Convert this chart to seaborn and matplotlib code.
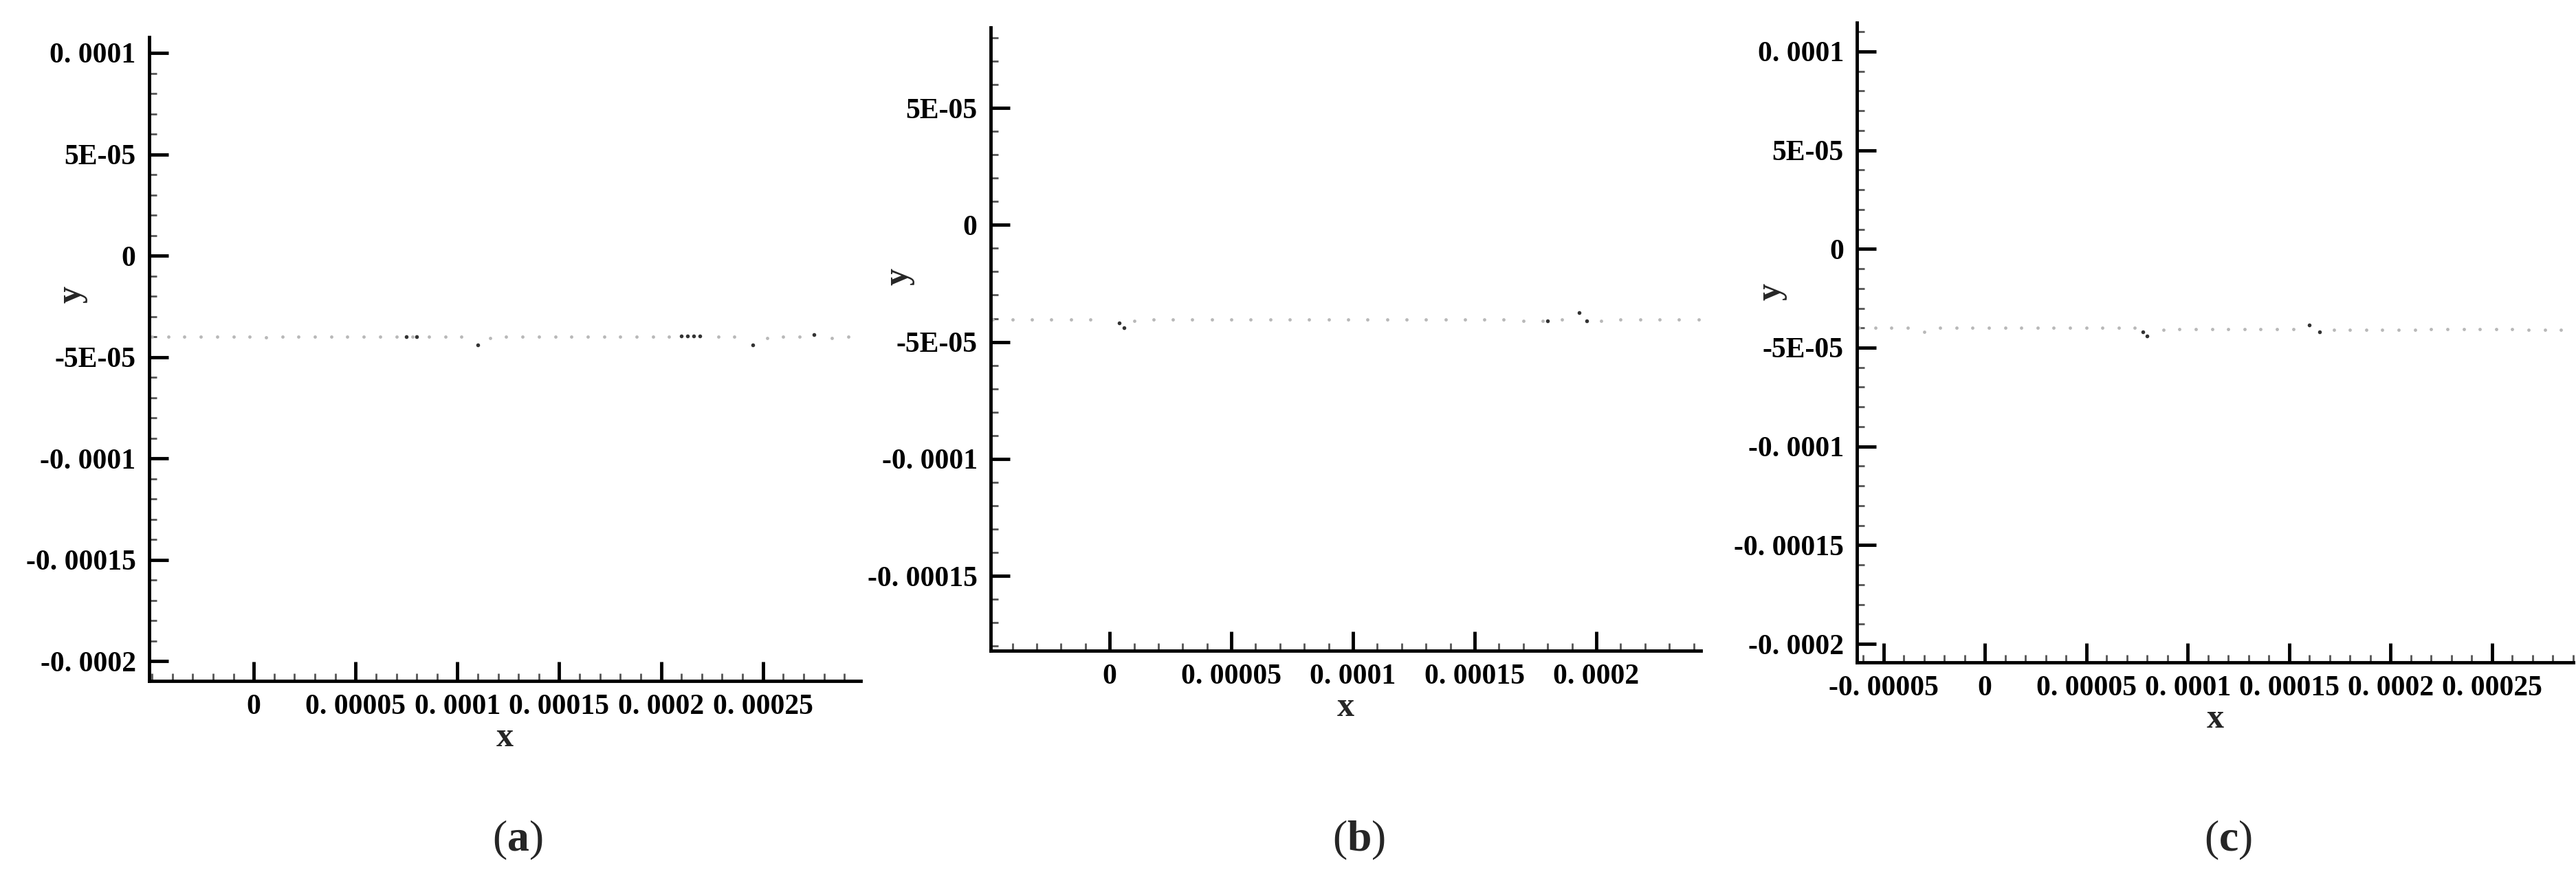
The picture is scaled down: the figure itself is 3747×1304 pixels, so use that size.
import matplotlib
matplotlib.use("Agg")
import matplotlib.pyplot as plt
import seaborn as sns
from matplotlib.ticker import FixedLocator, FixedFormatter, MultipleLocator

sns.set_style("white")
plt.rcParams['font.family'] = ['Liberation Serif', 'DejaVu Serif']
plt.rcParams['mathtext.fontset'] = 'custom'
plt.rcParams['mathtext.bf'] = 'Liberation Serif:bold'
plt.rcParams['mathtext.rm'] = 'Liberation Serif'

# ---- data: panel (a)
xa = [-5.0e-5, -4.2e-5, -3.4e-5, -2.6e-5, -1.8e-5, -1.0e-5, -2.0e-6, 6.0e-6, 1.4e-5, 2.2e-5,
      3.0e-5, 3.8e-5, 4.6e-5, 5.4e-5, 6.2e-5, 7.0e-5, 7.8e-5, 8.6e-5, 9.4e-5, 1.02e-4,
      1.16e-4, 1.24e-4, 1.32e-4, 1.40e-4, 1.48e-4, 1.56e-4, 1.64e-4, 1.72e-4, 1.80e-4, 1.88e-4,
      1.96e-4, 2.04e-4, 2.28e-4, 2.36e-4, 2.52e-4, 2.60e-4, 2.68e-4, 2.84e-4, 2.92e-4]
ya = [-4.0e-5, -4.0e-5, -4.0e-5, -4.0e-5, -4.0e-5, -4.0e-5, -4.0e-5, -4.02e-5, -4.0e-5, -4.0e-5,
      -4.0e-5, -4.0e-5, -4.0e-5, -4.0e-5, -4.0e-5, -4.0e-5, -4.0e-5, -4.0e-5, -4.0e-5, -4.0e-5,
      -4.05e-5, -4.0e-5, -4.0e-5, -4.0e-5, -4.0e-5, -4.0e-5, -4.0e-5, -4.0e-5, -4.0e-5, -4.0e-5,
      -4.0e-5, -4.0e-5, -4.0e-5, -4.0e-5, -4.05e-5, -4.0e-5, -4.0e-5, -4.05e-5, -4.0e-5]
xa_dark = [7.5e-5, 8.0e-5, 1.10e-4, 2.10e-4, 2.13e-4, 2.16e-4, 2.19e-4, 2.45e-4, 2.75e-4]
ya_dark = [-4.0e-5, -4.0e-5, -4.4e-5, -3.95e-5, -3.95e-5, -3.95e-5, -3.95e-5, -4.4e-5, -3.9e-5]

# ---- data: panel (b)
xb = [-4.8e-5, -4.0e-5, -3.2e-5, -2.4e-5, -1.6e-5, -8.0e-6, 1.0e-5, 1.8e-5, 2.6e-5, 3.4e-5,
      4.2e-5, 5.0e-5, 5.8e-5, 6.6e-5, 7.4e-5, 8.2e-5, 9.0e-5, 9.8e-5, 1.06e-4, 1.14e-4,
      1.22e-4, 1.30e-4, 1.38e-4, 1.46e-4, 1.54e-4, 1.62e-4, 1.70e-4, 1.78e-4, 1.86e-4, 2.02e-4,
      2.10e-4, 2.18e-4, 2.26e-4, 2.34e-4, 2.42e-4]
yb = [-4.03e-5, -4.03e-5, -4.03e-5, -4.03e-5, -4.03e-5, -4.03e-5, -4.1e-5, -4.03e-5, -4.03e-5, -4.03e-5,
      -4.03e-5, -4.03e-5, -4.03e-5, -4.03e-5, -4.03e-5, -4.03e-5, -4.03e-5, -4.03e-5, -4.03e-5, -4.03e-5,
      -4.03e-5, -4.03e-5, -4.03e-5, -4.03e-5, -4.03e-5, -4.03e-5, -4.1e-5, -4.1e-5, -4.03e-5, -4.1e-5,
      -4.03e-5, -4.03e-5, -4.03e-5, -4.03e-5, -4.03e-5]
xb_dark = [4.0e-6, 6.0e-6, 1.93e-4, 1.96e-4, 1.80e-4]
yb_dark = [-4.2e-5, -4.4e-5, -3.75e-5, -4.1e-5, -4.1e-5]

# ---- data: panel (c)
xc = [-6.2e-5, -5.4e-5, -4.6e-5, -3.8e-5, -3.0e-5, -2.2e-5, -1.4e-5, -6.0e-6, 2.0e-6, 1.0e-5,
      1.8e-5, 2.6e-5, 3.4e-5, 4.2e-5, 5.0e-5, 5.8e-5, 6.6e-5, 7.4e-5, 8.8e-5, 9.6e-5,
      1.04e-4, 1.12e-4, 1.20e-4, 1.28e-4, 1.36e-4, 1.44e-4, 1.52e-4, 1.72e-4, 1.80e-4, 1.88e-4,
      1.96e-4, 2.04e-4, 2.12e-4, 2.20e-4, 2.28e-4, 2.36e-4, 2.44e-4, 2.52e-4, 2.60e-4, 2.68e-4,
      2.76e-4, 2.84e-4]
yc = [-4.0e-5, -4.0e-5, -4.0e-5, -4.0e-5, -4.2e-5, -4.0e-5, -4.0e-5, -4.0e-5, -4.0e-5, -4.0e-5,
      -4.0e-5, -4.0e-5, -4.0e-5, -4.0e-5, -4.0e-5, -4.0e-5, -4.0e-5, -4.0e-5, -4.1e-5, -4.05e-5,
      -4.05e-5, -4.05e-5, -4.05e-5, -4.05e-5, -4.05e-5, -4.05e-5, -4.05e-5, -4.1e-5, -4.1e-5, -4.1e-5,
      -4.1e-5, -4.1e-5, -4.1e-5, -4.05e-5, -4.05e-5, -4.05e-5, -4.05e-5, -4.05e-5, -4.05e-5, -4.1e-5,
      -4.1e-5, -4.1e-5]
xc_dark = [7.8e-5, 8.0e-5, 1.60e-4, 1.65e-4]
yc_dark = [-4.2e-5, -4.4e-5, -3.85e-5, -4.2e-5]

# ---- axes specs
xticks_a = [0, 5e-5, 1e-4, 1.5e-4, 2e-4, 2.5e-4]
xlabels_a = ["0", "0. 00005", "0. 0001", "0. 00015", "0. 0002", "0. 00025"]
yticks_a = [1e-4, 5e-5, 0, -5e-5, -1e-4, -1.5e-4, -2e-4]
ylabels_a = ["0. 0001", "5E-05", "0", "-5E-05", "-0. 0001", "-0. 00015", "-0. 0002"]
xticks_b = [0, 5e-5, 1e-4, 1.5e-4, 2e-4]
xlabels_b = ["0", "0. 00005", "0. 0001", "0. 00015", "0. 0002"]
yticks_b = [5e-5, 0, -5e-5, -1e-4, -1.5e-4]
ylabels_b = ["5E-05", "0", "-5E-05", "-0. 0001", "-0. 00015"]
xticks_c = [-5e-5, 0, 5e-5, 1e-4, 1.5e-4, 2e-4, 2.5e-4]
xlabels_c = ["-0. 00005", "0", "0. 00005", "0. 0001", "0. 00015", "0. 0002", "0. 00025"]
captions = ["a", "b", "c"]

fig = plt.figure(figsize=(37.47, 13.04), dpi=100)
panels = [
    ([0.0579, 0.240, 0.2762, 0.7186], (-5.14e-5, 2.98e-4), (-2.098e-4, 1.078e-4),
     xa, ya, xa_dark, ya_dark, xticks_a, xlabels_a, yticks_a, ylabels_a, (-0.086, 0.60)),
    ([0.3846, 0.2738, 0.2757, 0.6955], (-4.89e-5, 2.43e-4), (-1.82e-4, 8.44e-5),
     xb, yb, xb_dark, yb_dark, xticks_b, xlabels_b, yticks_b, ylabels_b, (-0.107, 0.60)),
    ([0.7209, 0.2607, 0.2780, 0.7140], (-6.3e-5, 2.9e-4), (-2.094e-4, 1.146e-4),
     xc, yc, xc_dark, yc_dark, xticks_c, xlabels_c, yticks_a, ylabels_a, (-0.098, 0.58)),
]

for (rect, xl, yl, x, y, xd, yd, xt, xtl, yt, ytl, ylc), cap in zip(panels, captions):
    ax = fig.add_axes(rect)
    sns.scatterplot(x=x, y=y, ax=ax, color="#b8b8b8", s=12, linewidth=0)
    sns.scatterplot(x=xd, y=yd, ax=ax, color="#333333", s=16, linewidth=0)
    ax.set_xlim(*xl)
    ax.set_ylim(*yl)
    for s in ["top", "right"]:
        ax.spines[s].set_visible(False)
    for s in ["left", "bottom"]:
        ax.spines[s].set_linewidth(3.5)
        ax.spines[s].set_color("black")
    ax.xaxis.set_major_locator(FixedLocator(xt))
    ax.xaxis.set_major_formatter(FixedFormatter(xtl))
    ax.yaxis.set_major_locator(FixedLocator(yt))
    ax.yaxis.set_major_formatter(FixedFormatter(ytl))
    ax.xaxis.set_minor_locator(MultipleLocator(1e-5))
    ax.yaxis.set_minor_locator(MultipleLocator(1e-5))
    ax.tick_params(which="both", bottom=True, left=True, top=False, right=False)
    ax.tick_params(which="major", direction="in", length=20, width=3.5, labelsize=30, pad=14,
                   colors="black")
    ax.tick_params(which="minor", direction="in", length=8, width=2, colors="#555555")
    for lab in ax.get_xticklabels() + ax.get_yticklabels():
        lab.set_fontweight("bold")
    ax.set_xlabel("x", fontsize=36, fontweight="bold", labelpad=2)
    ax.set_ylabel("y", fontsize=36, fontweight="bold")
    ax.yaxis.set_label_coords(*ylc)
    fig.text(rect[0] + rect[2] / 2 + 0.005, 0.062, "(" + r"$\mathbf{" + cap + "}$" + ")",
             ha="center", va="center", fontsize=46)

fig.savefig("out.png", dpi=100, facecolor="white")
